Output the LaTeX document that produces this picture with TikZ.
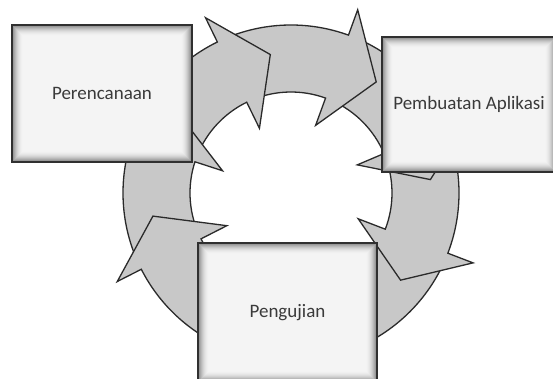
\documentclass[tikz,border=0pt]{standalone}
\usepackage{fontspec}
\setmainfont{Carlito}
\usetikzlibrary{calc}
\definecolor{ringfill}{HTML}{C8C8C8}
\definecolor{ringline}{HTML}{2A2A2A}
\definecolor{boxfill}{HTML}{F4F4F4}
\definecolor{boxline}{HTML}{303030}
\definecolor{txt}{HTML}{3A3A3A}
\begin{document}
\begin{tikzpicture}[x=1pt,y=1pt,
  ringarrow/.style={fill=ringfill, draw=ringline, line width=1.3pt, line join=miter},
  stagebox/.style={draw=boxline, line width=1.6pt, fill=boxfill, inner sep=0pt,
    text=txt, font=\fontsize{19}{22}\selectfont,
    path picture={
      \foreach \i in {0,...,10}{
        \pgfmathsetmacro\op{0.45*(1-\i/11)^2}
        \pgfmathsetmacro\d{\i+0.5}
        \draw[black, line width=1.05pt, opacity=\op]
          ([shift={(\d pt,\d pt)}]path picture bounding box.south west) rectangle
          ([shift={(-\d pt,-\d pt)}]path picture bounding box.north east);
      }}}]
\useasboundingbox (0,0) rectangle (553,378);
\fill[white] (0,0) rectangle (553,378);
% ring of eight curved arrows (clockwise)
\begin{scope}[shift={(291,185)}]
  \foreach \h/\t in {-64/-25, -21/19, 23/66, 70/112, 116/158, 162/203, 207/247, 251/292}{
    \path[ringarrow] (\t:168pt) arc[start angle=\t, end angle=\h, radius=168pt]
      -- (\h:195pt) -- ({\h-17.5}:140pt) -- (\h:72pt) -- (\h:101pt)
      arc[start angle=\h, end angle=\t, radius=101pt] -- cycle;
  }
\end{scope}
% stage boxes
\node[stagebox, minimum width=180pt, minimum height=137pt] (plan) at (102,284.5) {Perencanaan};
\node[stagebox, minimum width=174pt, minimum height=135pt] (build) at (469,273.5) {Pembuatan Aplikasi};
\node[stagebox, minimum width=179pt, minimum height=139pt] (test) at (287.5,65.5) {Pengujian};
\end{tikzpicture}
\end{document}
